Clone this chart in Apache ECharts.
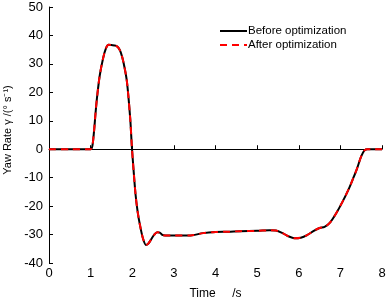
<!DOCTYPE html>
<html>
<head>
<meta charset="utf-8">
<script src="https://cdn.jsdelivr.net/npm/echarts@6/dist/echarts.min.js"></script>
<style>
  html, body { margin: 0; padding: 0; background: #fff; }
  #chart { width: 387px; height: 301px; }
</style>
</head>
<body>
<div id="chart"></div>
<script>
// Yaw rate vs time
const timeS = [0, 0.5, 1.0, 1.04, 1.08, 1.12, 1.16, 1.22, 1.3, 1.37, 1.43, 1.5, 1.6, 1.67, 1.73, 1.79, 1.87, 1.95, 1.99,
  2.03, 2.08, 2.13, 2.19, 2.26, 2.33, 2.38, 2.45, 2.52, 2.6, 2.66, 2.72, 2.8, 3.0, 3.4, 3.7, 4.0, 4.3, 4.6, 5.0,
  5.3, 5.45, 5.6, 5.75, 5.9, 6.05, 6.2, 6.35, 6.5, 6.62, 6.75, 6.9, 7.05, 7.2, 7.3, 7.4, 7.5, 7.58, 7.65, 7.8, 8.0];
const beforeRate = [0, 0, 0, 1, 6, 13, 19, 26, 32, 35.5, 36.7, 36.6, 36.4, 35.6, 33.8, 30.5, 24, 11, 1,
  -7, -16, -22, -27, -31.5, -33.7, -33.3, -31.8, -30.2, -29.2, -29.3, -30.1, -30.3, -30.3, -30.3, -29.5, -29.1, -29.0, -28.8, -28.7,
  -28.5, -28.6, -29.4, -30.6, -31.3, -31.1, -30.2, -28.8, -27.7, -27.3, -25.8, -22.5, -18.5, -14, -10.5, -6.8, -2.5, -0.4, 0, 0, 0];
const afterRate = beforeRate.slice();

const xTicks = [0, 1, 2, 3, 4, 5, 6, 7, 8];
const yTicks = [-40, -30, -20, -10, 0, 10, 20, 30, 40, 50];

const chart = echarts.init(document.getElementById('chart'));
const font = 'Liberation Sans, Arial, sans-serif';

chart.setOption({
  animation: false,
  grid: { left: 49, right: 5, top: 7, bottom: 38, containLabel: false, outerBoundsMode: 'none' },
  legend: {
    left: 214,
    top: 20,
    orient: 'vertical',
    itemWidth: 27,
    itemHeight: 10,
    itemGap: 2,
    itemStyle: { opacity: 0 },
    textStyle: { fontFamily: font, fontSize: 11.5, color: '#000', padding: [0, 0, 0, -4] },
    data: ['Before optimization', 'After optimization']
  },
  xAxis: {
    type: 'value',
    min: xTicks[0],
    max: xTicks[xTicks.length - 1],
    interval: 1,
    name: 'Time     /s',
    nameLocation: 'middle',
    nameGap: 25,
    nameTextStyle: { fontFamily: font, fontSize: 12, color: '#000' },
    axisLine: { lineStyle: { color: '#000', width: 1 } },
    axisTick: { inside: true, length: 4, lineStyle: { color: '#000' } },
    axisLabel: { fontFamily: font, fontSize: 13, color: '#000', margin: 4 },
    splitLine: { show: false }
  },
  yAxis: {
    type: 'value',
    min: yTicks[0],
    max: yTicks[yTicks.length - 1],
    interval: 10,
    name: 'Yaw Rate γ /(° s\u207B\u00B9)',
    nameLocation: 'middle',
    nameGap: 35,
    nameTextStyle: { fontFamily: font, fontSize: 11, color: '#000', padding: [0, 0, 0, 10] },
    axisLine: { show: true, lineStyle: { color: '#000', width: 1 } },
    axisTick: { show: true, inside: true, length: 4, lineStyle: { color: '#000' } },
    axisLabel: { fontFamily: font, fontSize: 13, color: '#000', margin: 6 },
    splitLine: { show: false }
  },
  series: [
    {
      name: 'Before optimization',
      type: 'line',
      data: timeS.map((t, i) => [t, beforeRate[i]]),
      showSymbol: false,
      symbol: 'none',
      smooth: 0.3,
      lineStyle: { color: '#000', width: 2 },
      itemStyle: { color: '#000' }
    },
    {
      name: 'After optimization',
      type: 'line',
      data: timeS.map((t, i) => [t, afterRate[i]]),
      showSymbol: false,
      symbol: 'none',
      smooth: 0.3,
      lineStyle: { color: '#ff0000', width: 2, type: [7, 5] },
      itemStyle: { color: '#ff0000' },
      z: 3
    }
  ]
});
</script>
</body>
</html>
